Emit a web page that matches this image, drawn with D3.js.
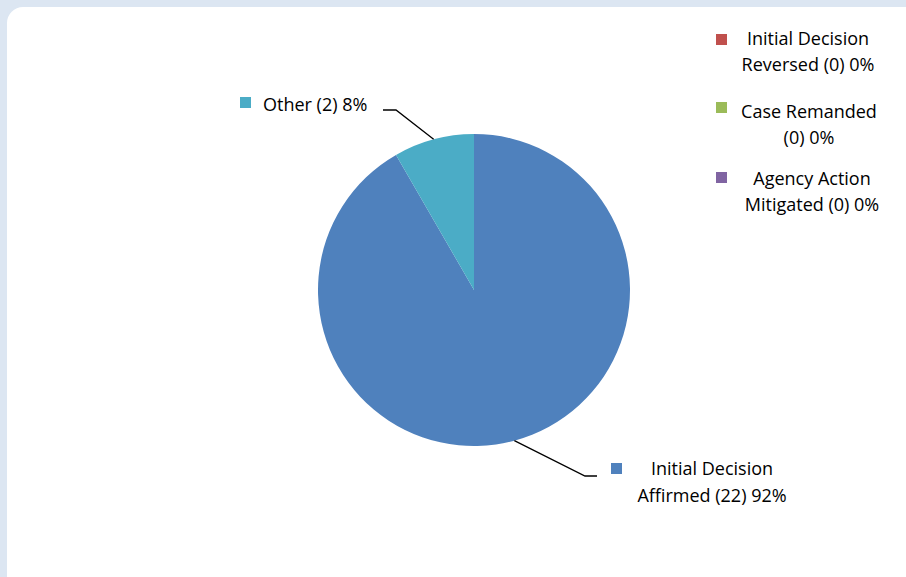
<!DOCTYPE html>
<html>
<head>
<meta charset="utf-8">
<script src="https://cdn.jsdelivr.net/npm/d3@7/dist/d3.min.js"></script>
<style>
  body { margin: 0; background: #dce6f2; }
  svg { display: block; }
  text { font-family: "Open Sans", sans-serif; font-size: 18px; fill: #000; }
</style>
</head>
<body>
<svg id="chart" width="906" height="577"></svg>
<script>
// data
var categories = ["Initial Decision Affirmed", "Initial Decision Reversed", "Case Remanded", "Agency Action Mitigated", "Other"]
var counts = [22, 0, 0, 0, 2]
var percents = ["92%", "0%", "0%", "0%", "8%"]
var colors = ["#4f81bd", "#c0504d", "#9bbb59", "#8064a2", "#4bacc6"]

// label text, split the way the picture wraps it
var labelLines = [
	["Initial Decision", "Affirmed (22) 92%"],
	["Initial Decision", "Reversed (0) 0%"],
	["Case Remanded", "(0) 0%"],
	["Agency Action", "Mitigated (0) 0%"],
	["Other (2) 8%"]
]

var svg = d3.select("#chart")

// white rounded panel
svg.append("rect").attr("x", 7).attr("y", 7).attr("width", 915).attr("height", 590)
	.attr("rx", 16).attr("ry", 16).style("fill", "#fff")

var cx = 474, cy = 290, r = 156

var pie = d3.pie().sort(null).value(function(d){ return d })
var arcs = pie(counts)
var arc = d3.arc().innerRadius(0).outerRadius(r)

var g = svg.append("g").attr("transform", "translate(" + cx + "," + cy + ")")

g.selectAll("path").data(arcs).enter().append("path")
	.attr("d", arc)
	.style("fill", function(d, i){ return colors[i] })

function edgePoint(d){
	var a = (d.startAngle + d.endAngle) / 2
	return [cx + r * Math.sin(a), cy - r * Math.cos(a)]
}

// data labels with leader lines (only non-zero slices)
var leaders = {
	0: { elbow: [585, 476], end: [597, 476], key: [611, 463], textX: 712, textY: 475, anchor: "middle" },
	4: { elbow: [396, 110], end: [383, 110], key: [240, 97], textX: 263, textY: 111, anchor: "start" }
}

Object.keys(leaders).forEach(function(k){
	var i = +k, L = leaders[k]
	var p = edgePoint(arcs[i])
	svg.append("polyline")
		.attr("points", [p, L.elbow, L.end].map(function(q){ return q.join(",") }).join(" "))
		.style("fill", "none").style("stroke", "#000").style("stroke-width", 1.3)
	svg.append("rect").attr("x", L.key[0]).attr("y", L.key[1]).attr("width", 11).attr("height", 11)
		.style("fill", colors[i])
	var t = svg.append("text").attr("text-anchor", L.anchor)
	labelLines[i].forEach(function(line, j){
		t.append("tspan").attr("x", L.textX).attr("y", L.textY + j * 27).text(line)
	})
})

// legend for the zero slices
var legendRows = [
	{ i: 1, keyY: 34, textX: 808, textY: 45 },
	{ i: 2, keyY: 102, textX: 809, textY: 118 },
	{ i: 3, keyY: 172, textX: 812, textY: 185 }
]

legendRows.forEach(function(row){
	svg.append("rect").attr("x", 716).attr("y", row.keyY).attr("width", 11).attr("height", 11)
		.style("fill", colors[row.i])
	var t = svg.append("text").attr("text-anchor", "middle")
	labelLines[row.i].forEach(function(line, j){
		t.append("tspan").attr("x", row.textX).attr("y", row.textY + j * 26).text(line)
	})
})
</script>
</body>
</html>
